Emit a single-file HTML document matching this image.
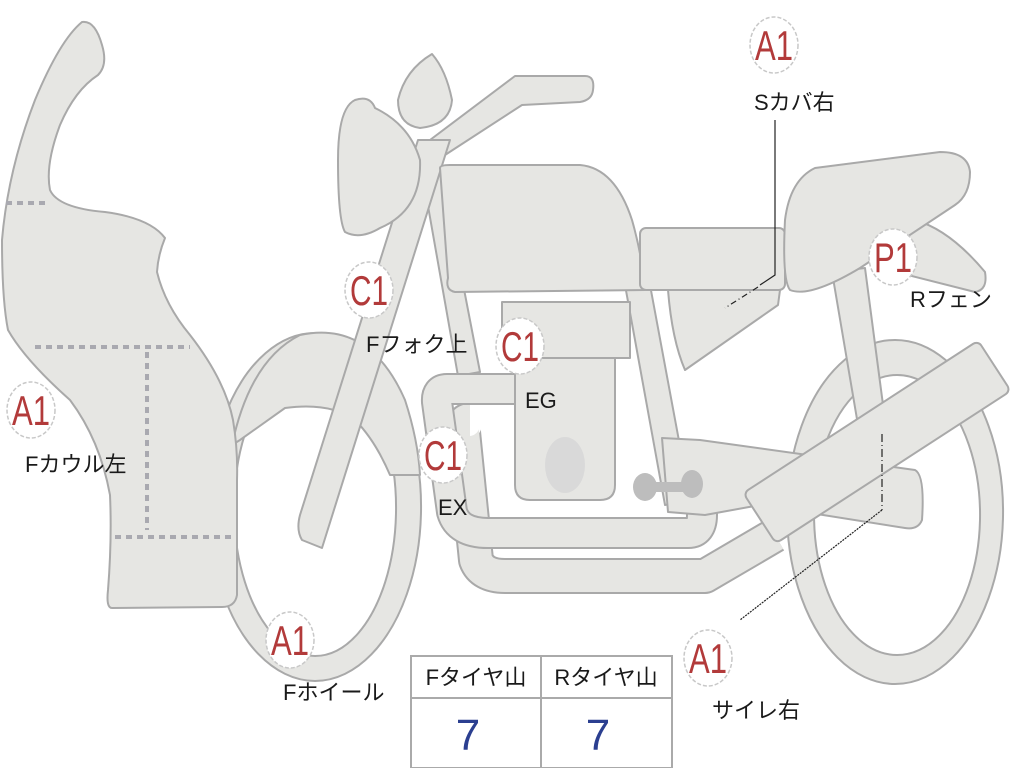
<!DOCTYPE html>
<html><head><meta charset="utf-8"><style>
html,body{margin:0;padding:0;background:#fff;width:1024px;height:768px;overflow:hidden}
svg{display:block}
.s{fill:#e6e6e3;stroke:#a9a9a9;stroke-width:2;stroke-linejoin:round}
.lab{font-family:"Liberation Sans","Noto Sans CJK JP",sans-serif;font-size:22px;fill:#1a1a1a}
.bad{font-family:"Liberation Sans",sans-serif;font-size:42px;fill:#b23a3a}
.c{fill:#fff;stroke:#c8c8c8;stroke-width:1.5;stroke-dasharray:4 2}
</style></head><body>
<svg width="1024" height="768" viewBox="0 0 1024 768">
<!-- rear wheel -->
<path class="s" fill-rule="evenodd" d="M895,340 a108,172 0 1,0 0.1,0 Z M897,375 a83,140 0 1,0 0.1,0 Z"/>
<!-- rear shock -->
<path class="s" d="M832,272 L865,268 L885,420 L858,425 Z"/>
<!-- front wheel -->
<path class="s" fill-rule="evenodd" d="M315,333 a106,174 0 1,0 0.1,0 Z M315,360 a81,148 0 1,0 0.1,0 Z"/>
<!-- front fender -->
<path class="s" d="M232,445 Q250,360 300,335 Q370,320 405,400 Q418,440 420,475 L390,475 Q375,440 355,420 Q330,402 285,408 L240,440 Z"/>
<!-- front cowl -->
<path class="s" d="M82,22 Q95,20 102,45 Q108,65 98,75 Q75,90 60,125 Q45,165 50,190 Q58,208 105,212 Q150,218 165,238 Q158,255 157,272 Q165,305 190,335 Q225,380 233,420 Q238,450 237,480 L237,595 Q235,607 222,607 L112,608 Q106,608 108,590 Q112,540 110,495 Q100,440 70,400 Q25,360 8,330 Q2,300 2,240 Q8,170 35,100 Q60,40 82,22 Z"/>
<g stroke="#a9a9b0" stroke-width="4" stroke-dasharray="6 5" fill="none">
<path d="M6,203 H50"/><path d="M35,347 H190"/><path d="M147,352 V530"/><path d="M115,537 H235"/>
</g>
<!-- frame tubes -->
<path class="s" d="M422,172 L440,165 L480,372 L458,376 Z"/>
<path class="s" d="M625,285 L650,285 L690,500 L665,505 Z"/>
<!-- exhaust pipes -->
<g fill="none" stroke-linecap="butt" stroke-linejoin="round">
<path d="M470,420 Q462,420 463,432 L476,560 Q482,576 505,576 H705 L775,535" stroke="#a9a9a9" stroke-width="36"/>
<path d="M470,420 Q462,420 463,432 L476,560 Q482,576 505,576 H705 L775,535" stroke="#e6e6e3" stroke-width="32"/>
<path d="M516,389 H447 Q436,389 437,402 L452,512 Q458,533 488,533 H688 Q702,533 702,515 V505" stroke="#a9a9a9" stroke-width="32"/>
<path d="M516,389 H447 Q436,389 437,402 L452,512 Q458,533 488,533 H688 Q702,533 702,515 V505" stroke="#e6e6e3" stroke-width="28"/>
</g>
<!-- swingarm -->
<path class="s" d="M662,438 L700,440 L915,470 Q925,475 922,520 Q918,530 905,528 L760,505 L705,515 L668,512 Z"/>
<!-- footpeg -->
<g fill="#bdbdbd"><rect x="640" y="482" width="55" height="10"/><ellipse cx="645" cy="487" rx="12" ry="14"/><ellipse cx="692" cy="484" rx="11" ry="14"/></g>
<!-- engine -->
<rect class="s" x="502" y="302" width="128" height="56"/>
<path class="s" d="M515,358 H615 V485 Q615,500 600,500 H530 Q515,500 515,485 Z"/>
<ellipse cx="565" cy="465" rx="20" ry="28" fill="#d9d9d9"/>
<!-- handlebar -->
<path class="s" d="M430,140 L515,76 H585 Q595,76 593,90 Q592,100 580,102 L522,105 L445,155 Z"/>
<!-- fork -->
<path class="s" d="M418,140 L450,140 L322,548 L302,540 Q296,530 300,515 Z"/>
<!-- meter -->
<path class="s" d="M432,54 Q446,70 452,100 Q450,125 420,128 Q398,125 398,100 Q405,70 432,54 Z"/>
<!-- headlight -->
<path class="s" d="M355,100 Q370,95 375,108 Q410,125 420,160 Q422,210 380,228 Q360,240 345,232 Q338,220 338,160 Q338,108 355,100 Z"/>
<!-- tank -->
<path class="s" d="M440,168 Q440,165 450,165 H580 Q615,168 632,220 Q642,255 645,290 L455,292 Q445,290 448,278 Z"/>
<!-- side cover -->
<path class="s" d="M668,290 L780,290 L778,305 L685,370 Q672,340 668,290 Z"/>
<rect class="s" x="640" y="228" width="145" height="62" rx="6"/>
<!-- rear fender -->
<path class="s" d="M915,220 Q950,230 985,272 Q988,290 975,292 L880,268 Z"/>
<!-- seat -->
<path class="s" d="M815,168 L940,152 Q968,152 970,172 Q970,195 955,205 L860,268 Q810,298 790,290 Q782,280 785,220 Q790,180 815,168 Z"/>
<!-- muffler -->
<g transform="translate(877,442) rotate(-33)"><rect class="s" x="-140" y="-30" width="280" height="60" rx="6"/></g>
<!-- leader lines -->
<g fill="none" stroke="#222" stroke-width="1.2">
<path d="M775,120 V275 L760,285"/>
<path d="M758,287 L725,308" stroke-dasharray="6 3 1 3"/>
<path d="M882,434 V510" stroke-dasharray="8 3 1 3"/>
<path d="M882,510 L740,620" stroke-dasharray="2 1"/>
</g>
<!-- badges -->
<g>
<ellipse class="c" cx="774" cy="45" rx="24" ry="28"/><text class="bad" x="774" y="60" text-anchor="middle" textLength="38" lengthAdjust="spacingAndGlyphs">A1</text>
<ellipse class="c" cx="893" cy="257" rx="24" ry="28"/><text class="bad" x="893" y="272" text-anchor="middle" textLength="38" lengthAdjust="spacingAndGlyphs">P1</text>
<ellipse class="c" cx="369" cy="290" rx="24" ry="28"/><text class="bad" x="369" y="305" text-anchor="middle" textLength="38" lengthAdjust="spacingAndGlyphs">C1</text>
<ellipse class="c" cx="520" cy="346" rx="24" ry="28"/><text class="bad" x="520" y="361" text-anchor="middle" textLength="38" lengthAdjust="spacingAndGlyphs">C1</text>
<ellipse class="c" cx="443" cy="455" rx="24" ry="28"/><text class="bad" x="443" y="470" text-anchor="middle" textLength="38" lengthAdjust="spacingAndGlyphs">C1</text>
<ellipse class="c" cx="31" cy="410" rx="24" ry="28"/><text class="bad" x="31" y="425" text-anchor="middle" textLength="38" lengthAdjust="spacingAndGlyphs">A1</text>
<ellipse class="c" cx="290" cy="640" rx="24" ry="28"/><text class="bad" x="290" y="655" text-anchor="middle" textLength="38" lengthAdjust="spacingAndGlyphs">A1</text>
<ellipse class="c" cx="708" cy="658" rx="24" ry="28"/><text class="bad" x="708" y="673" text-anchor="middle" textLength="38" lengthAdjust="spacingAndGlyphs">A1</text>
</g>
<text class="lab" x="754" y="110">Sカバ右</text>
<text class="lab" x="910" y="307">Rフェン</text>
<text class="lab" x="366" y="352">Fフォク上</text>
<text class="lab" x="525" y="408">EG</text>
<text class="lab" x="438" y="515">EX</text>
<text class="lab" x="25" y="472">Fカウル左</text>
<text class="lab" x="283" y="700">Fホイール</text>
<text class="lab" x="712" y="718">サイレ右</text>
<!-- table -->
<g fill="#fff" stroke="#aaaaaa" stroke-width="2">
<rect x="411" y="656" width="261" height="112"/>
<line x1="411" y1="698" x2="672" y2="698"/><line x1="541" y1="656" x2="541" y2="768"/>
</g>
<text class="lab" x="476" y="685" text-anchor="middle">Fタイヤ山</text>
<text class="lab" x="606" y="685" text-anchor="middle">Rタイヤ山</text>
<text x="468" y="750" text-anchor="middle" font-family="Liberation Sans,sans-serif" font-size="44" fill="#2b3f90">7</text>
<text x="598" y="750" text-anchor="middle" font-family="Liberation Sans,sans-serif" font-size="44" fill="#2b3f90">7</text>
</svg>
</body></html>
